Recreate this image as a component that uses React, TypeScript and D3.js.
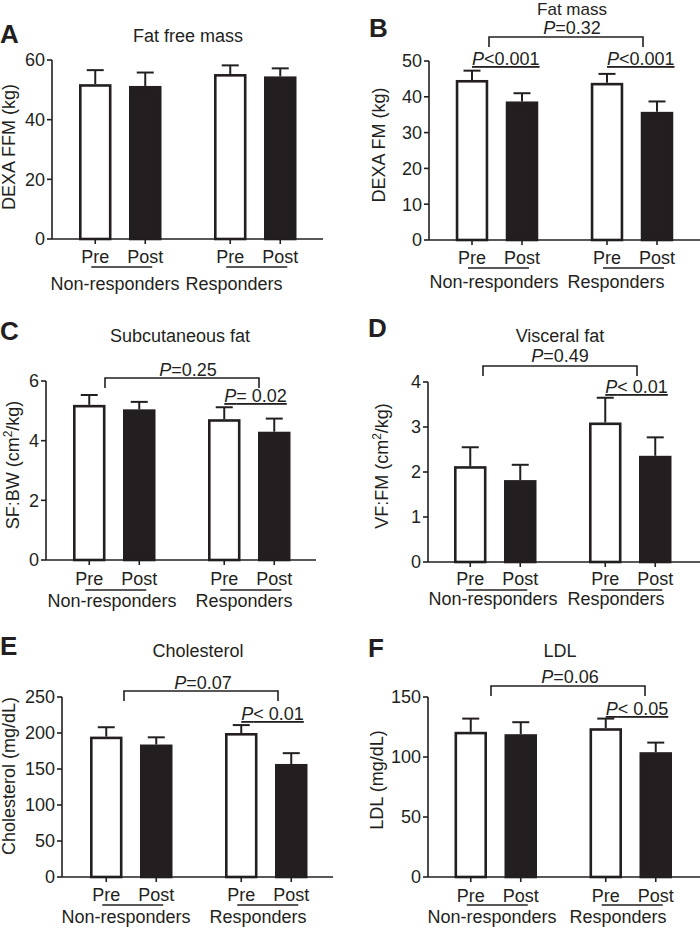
import React from "react";
import * as d3 from "d3";

// ---------- DATA ----------
const groups = ["Non-responders", "Responders"];
const conditions = ["Pre", "Post"];
const panelLetters = ["A", "B", "C", "D", "E", "F"];
const titles = ["Fat free mass", "Fat mass", "Subcutaneous fat", "Visceral fat", "Cholesterol", "LDL"];
// y label: [before superscript, superscript, after]
const yLabels: [string, string, string][] = [
  ["DEXA FFM (kg)", "", ""],
  ["DEXA FM (kg)", "", ""],
  ["SF:BW (cm", "2", "/kg)"],
  ["VF:FM (cm", "2", "/kg)"],
  ["Cholesterol (mg/dL)", "", ""],
  ["LDL (mg/dL)", "", ""],
];
const yMaxes = [60, 50, 6, 4, 250, 150];
const yTickSteps = [20, 10, 2, 1, 50, 50];
// order: NR-Pre, NR-Post, R-Pre, R-Post
const means = [
  [51.9, 51.3, 55.3, 54.5],
  [44.7, 38.7, 43.9, 35.8],
  [5.2, 5.05, 4.72, 4.3],
  [2.13, 1.82, 3.1, 2.36],
  [195, 184, 200, 157],
  [121, 119, 124, 104],
];
const sems = [
  [4.7, 4.5, 2.9, 2.7],
  [2.6, 2.3, 2.5, 2.9],
  [0.33, 0.25, 0.4, 0.44],
  [0.42, 0.34, 0.55, 0.41],
  [13, 10, 11, 15],
  [11, 10, 8, 8],
];
// between-group comparison (bracket) p-values
const bracketP = ["", "=0.32", "=0.25", "=0.49", "=0.07", "=0.06"];
// within-group pre/post p-values [NR, R]
const withinP = [
  ["", ""],
  ["<0.001", "<0.001"],
  ["", "= 0.02"],
  ["", "< 0.01"],
  ["", "< 0.01"],
  ["", "< 0.05"],
];

// ---------- LAYOUT ----------
type Layout = {
  axisX: number; topY: number; baseY: number; axisEnd: number; g1c: number;
  titleX: number; titleY: number; letterX: number; letterY: number;
  ylabX: number; ylabY: number; condY: number; condLineY: number; groupY: number;
  groupX: [number, number];
  br?: { y: number; x1: number; x2: number; drop: number; tx: number; ty: number };
  wpY?: [number, number];
};
const layouts: Layout[] = [
  { axisX: 52, topY: 60, baseY: 239, axisEnd: 323, g1c: 120.25, titleX: 188, titleY: 42, letterX: 0, letterY: 43,
    ylabX: 15, ylabY: 147, condY: 263, condLineY: 267, groupY: 290, groupX: [115, 234] },
  { axisX: 429, topY: 61, baseY: 240, axisEnd: 700, g1c: 497, titleX: 572, titleY: 14.5, letterX: 369, letterY: 37,
    ylabX: 385, ylabY: 145, condY: 264, condLineY: 268, groupY: 288, groupX: [494, 616],
    br: { y: 37, x1: 489, x2: 643, drop: 10, tx: 572, ty: 34 }, wpY: [65, 65] },
  { axisX: 46, topY: 381, baseY: 560, axisEnd: 316, g1c: 114.25, titleX: 180, titleY: 342, letterX: 0, letterY: 340,
    ylabX: 19, ylabY: 465, condY: 585, condLineY: 590, groupY: 607, groupX: [112, 244],
    br: { y: 378, x1: 105, x2: 259, drop: 10, tx: 188, ty: 376 }, wpY: [402, 402] },
  { axisX: 428, topY: 382, baseY: 562, axisEnd: 700, g1c: 495.25, titleX: 560, titleY: 342, letterX: 368, letterY: 337,
    ylabX: 388, ylabY: 466, condY: 585, condLineY: 590, groupY: 605, groupX: [493, 616],
    br: { y: 366, x1: 483, x2: 637, drop: 10, tx: 560, ty: 362 }, wpY: [393, 393] },
  { axisX: 62, topY: 697, baseY: 877, axisEnd: 333, g1c: 131.25, titleX: 198, titleY: 657, letterX: 0, letterY: 655,
    ylabX: 15, ylabY: 776, condY: 901, condLineY: 905, groupY: 923, groupX: [126, 258],
    br: { y: 691, x1: 124, x2: 278, drop: 10, tx: 203, ty: 689 }, wpY: [720, 720] },
  { axisX: 428, topY: 697, baseY: 877, axisEnd: 700, g1c: 495.75, titleX: 560, titleY: 657, letterX: 368, letterY: 657,
    ylabX: 383, ylabY: 780, condY: 902, condLineY: 905, groupY: 923, groupX: [492, 618],
    br: { y: 686, x1: 491, x2: 645, drop: 10, tx: 570, ty: 683 }, wpY: [715, 715] },
];

const INK = "#231f20";
const FONT = "'Liberation Sans', Arial, Helvetica, sans-serif";
const FS = 18;

function Panel({ i }: { i: number }) {
  const L = layouts[i];
  const yMax = yMaxes[i];
  const y = d3.scaleLinear().domain([0, yMax]).range([L.baseY, L.topY]);
  const ticks = d3.range(0, yMax + yTickSteps[i] / 2, yTickSteps[i]);
  const gStart = L.g1c - 67.5;
  const xGroup = d3.scaleBand<string>().domain(groups).range([gStart, gStart + 270]);
  const xCond = d3.scaleBand<string>().domain(conditions).range([26.25, 108.75]).paddingInner(0.35);
  const bw = xCond.bandwidth();
  const bars = groups.flatMap((g, gi) =>
    conditions.map((c, ci) => {
      const k = gi * 2 + ci;
      const x = (xGroup(g) as number) + (xCond(c) as number);
      return { g, c, k, x, cx: x + bw / 2, m: means[i][k], e: sems[i][k] };
    })
  );
  const sw = 2.6;
  const [lab0, labSup, lab1] = yLabels[i];
  return (
    <g>
      <text x={L.letterX} y={L.letterY} fontSize={26} fontWeight="bold" fill={INK}>{panelLetters[i]}</text>
      <text x={L.titleX} y={L.titleY} fontSize={i === 1 ? 17 : FS} textAnchor="middle" fill={INK}>{titles[i]}</text>
      <text transform={`translate(${L.ylabX},${L.ylabY}) rotate(-90)`} fontSize={FS} textAnchor="middle" fill={INK}>
        {lab0}
        {labSup ? <tspan fontSize={12} dy={-7}>{labSup}</tspan> : null}
        {labSup ? <tspan dy={7}>{lab1}</tspan> : null}
      </text>
      {/* bars */}
      {bars.map((b) => (
        <g key={b.k}>
          <line x1={b.cx} x2={b.cx} y1={y(b.m)} y2={y(b.m + b.e)} stroke={INK} strokeWidth={2} />
          <line x1={b.cx - 8.5} x2={b.cx + 8.5} y1={y(b.m + b.e)} y2={y(b.m + b.e)} stroke={INK} strokeWidth={2} />
          <rect x={b.x + sw / 2} y={y(b.m) + sw / 2} width={bw - sw} height={L.baseY - y(b.m) - sw / 2}
            fill={b.c === "Pre" ? "#fff" : INK} stroke={INK} strokeWidth={sw} />
        </g>
      ))}
      {/* y axis */}
      <line x1={L.axisX} x2={L.axisX} y1={L.baseY} y2={y(yMax)} stroke={INK} strokeWidth={1.6} />
      {ticks.map((t) => (
        <g key={t}>
          <line x1={L.axisX - 5} x2={L.axisX} y1={y(t)} y2={y(t)} stroke={INK} strokeWidth={1.6} />
          <text x={L.axisX - 7} y={y(t)} dy="0.36em" fontSize={FS} textAnchor="end" fill={INK}>{t}</text>
        </g>
      ))}
      {/* x axis */}
      <line x1={L.axisX} x2={L.axisEnd} y1={L.baseY} y2={L.baseY} stroke={INK} strokeWidth={1.6} />
      {bars.map((b) => (
        <g key={"t" + b.k}>
          <line x1={b.cx} x2={b.cx} y1={L.baseY} y2={L.baseY + 5} stroke={INK} strokeWidth={1.6} />
          <text x={b.cx} y={L.condY} fontSize={FS} textAnchor="middle" fill={INK}>{b.c}</text>
        </g>
      ))}
      {groups.map((g, gi) => {
        const pre = bars[gi * 2].cx;
        const post = bars[gi * 2 + 1].cx;
        return (
          <g key={g}>
            <line x1={pre - 4} x2={post + 7} y1={L.condLineY} y2={L.condLineY} stroke={INK} strokeWidth={1.5} />
            <text x={L.groupX[gi]} y={L.groupY} fontSize={FS} textAnchor="middle" fill={INK}>{g}</text>
          </g>
        );
      })}
      {/* bracket between groups */}
      {L.br && bracketP[i] ? (
        <g>
          <path d={`M${L.br.x1},${L.br.y + L.br.drop}V${L.br.y}H${L.br.x2}V${L.br.y + L.br.drop}`} fill="none" stroke={INK} strokeWidth={1.6} />
          <text x={L.br.tx} y={L.br.ty} fontSize={FS} textAnchor="middle" fill={INK}>
            <tspan fontStyle="italic">P</tspan>{bracketP[i]}
          </text>
        </g>
      ) : null}
      {/* within-group p */}
      {L.wpY ? withinP[i].map((p, gi) => p ? (
        <text key={"p" + gi} x={bars[gi * 2].cx} y={L.wpY![gi]} fontSize={FS} fill={INK} textDecoration="underline">
          <tspan fontStyle="italic">P</tspan>{p}
        </text>
      ) : null) : null}
    </g>
  );
}

export default function App() {
  return (
    <svg width={700} height={928} style={{ position: "absolute", left: 0, top: 0, display: "block", background: "#fff" }}
      fontFamily={FONT}>
      <rect width={700} height={928} fill="#fff" />
      {layouts.map((_, i) => <Panel key={i} i={i} />)}
    </svg>
  );
}
